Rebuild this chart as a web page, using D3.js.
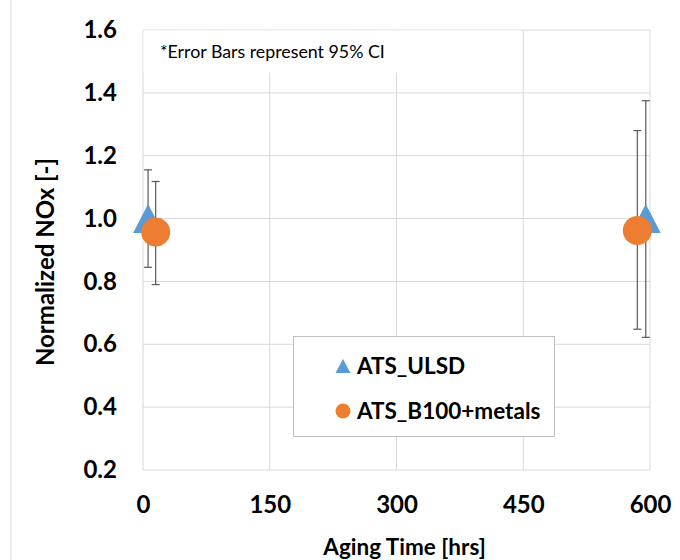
<!DOCTYPE html>
<html><head><meta charset="utf-8">
<script src="https://cdn.jsdelivr.net/npm/d3@7"></script>
<style>body{margin:0;background:#fff}</style>
</head><body>
<svg id="c" width="680" height="560"></svg>
<script>
const seriesNames = ["ATS_ULSD", "ATS_B100+metals"];
const ulsdX = [6, 595];
const ulsdY = [1.0, 1.0];
const ulsdHi = [1.155, 1.375];
const ulsdLo = [0.845, 0.622];
const b100X = [15, 585];
const b100Y = [0.957, 0.962];
const b100Hi = [1.118, 1.28];
const b100Lo = [0.79, 0.648];
const xTicks = [0, 150, 300, 450, 600];
const yTicks = [0.2, 0.4, 0.6, 0.8, 1.0, 1.2, 1.4, 1.6];
const note = "*Error Bars represent 95% CI";

const svg = d3.select("#c");
const x = d3.scaleLinear().domain([0, 600]).range([143, 650]);
const y = d3.scaleLinear().domain([0.2, 1.6]).range([470, 30]);
const grid = "#d9d9d9";
const font = "Lato, 'Open Sans', sans-serif";

// chart border (left)
svg.append("line").attr("x1", 11).attr("x2", 11).attr("y1", 0).attr("y2", 560).attr("stroke", grid);

// gridlines
svg.append("g").selectAll("line").data(yTicks).join("line")
  .attr("x1", x(0)).attr("x2", x(600)).attr("y1", d => y(d)).attr("y2", d => y(d))
  .attr("stroke", grid).attr("stroke-width", 1);
svg.append("g").selectAll("line").data(xTicks).join("line")
  .attr("x1", d => x(d)).attr("x2", d => x(d)).attr("y1", y(0.2)).attr("y2", y(1.6))
  .attr("stroke", grid).attr("stroke-width", 1);

// note box
svg.append("rect").attr("x", x(0) + 0.5).attr("y", y(1.6) + 0.5)
  .attr("width", x(450) - x(0) - 3).attr("height", 42).attr("fill", "#fff");
svg.append("text").attr("x", 160).attr("y", 58).text(note)
  .attr("font-family", font).attr("font-size", 17.8).attr("fill", "#000");

// axes labels
const yAxis = d3.axisLeft(y).tickValues(yTicks).tickFormat(d3.format(".1f")).tickSize(0).tickPadding(26);
const gy = svg.append("g").attr("transform", `translate(${x(0)},0)`).call(yAxis);
gy.select(".domain").remove();
gy.selectAll("text").attr("font-family", font).attr("font-weight", "bold").attr("font-size", 24).attr("fill", "#000");

const xAxis = d3.axisBottom(x).tickValues(xTicks).tickFormat(d3.format("d")).tickSize(0).tickPadding(26);
const gx = svg.append("g").attr("transform", `translate(0,${y(0.2)})`).call(xAxis);
gx.select(".domain").remove();
gx.selectAll("text").attr("font-family", font).attr("font-weight", "bold").attr("font-size", 24).attr("fill", "#000");

svg.append("text").attr("x", (x(0) + x(600)) / 2 + 8).attr("y", 555).attr("text-anchor", "middle")
  .attr("font-family", font).attr("font-weight", "bold").attr("font-size", 22.5).text("Aging Time [hrs]");
svg.append("text").attr("transform", `translate(54,262) rotate(-90)`).attr("text-anchor", "middle")
  .attr("font-family", font).attr("font-weight", "bold").attr("font-size", 24).text("Normalized NOx [-]");

function errBars(g, xs, hi, lo) {
  xs.forEach((v, i) => {
    const cx = x(v);
    g.append("line").attr("x1", cx).attr("x2", cx).attr("y1", y(hi[i])).attr("y2", y(lo[i]));
    g.append("line").attr("x1", cx - 4).attr("x2", cx + 4).attr("y1", y(hi[i])).attr("y2", y(hi[i]));
    g.append("line").attr("x1", cx - 4).attr("x2", cx + 4).attr("y1", y(lo[i])).attr("y2", y(lo[i]));
  });
  g.attr("stroke", "#595959").attr("stroke-width", 1.2);
}
function tri(cx, cy, h, w) {
  return `M${cx},${cy - h / 2}L${cx + w / 2},${cy + h / 2}L${cx - w / 2},${cy + h / 2}Z`;
}

// ULSD series
errBars(svg.append("g"), ulsdX, ulsdHi, ulsdLo);
svg.append("g").selectAll("path").data(ulsdX).join("path")
  .attr("d", (d, i) => tri(x(d), y(ulsdY[i]), 29, 30)).attr("fill", "#5B9BD5");

// B100 series
errBars(svg.append("g"), b100X, b100Hi, b100Lo);
svg.append("g").selectAll("circle").data(b100X).join("circle")
  .attr("cx", d => x(d)).attr("cy", (d, i) => y(b100Y[i])).attr("r", 14.5).attr("fill", "#ED7D31");

// legend
const lg = svg.append("g");
lg.append("rect").attr("x", 293.5).attr("y", 336.5).attr("width", 261).attr("height", 100)
  .attr("fill", "#fff").attr("stroke", "#bfbfbf");
lg.append("path").attr("d", tri(343, 366, 14, 15)).attr("fill", "#5B9BD5");
lg.append("circle").attr("cx", 343).attr("cy", 411).attr("r", 7.5).attr("fill", "#ED7D31");
lg.selectAll("text").data(seriesNames).join("text")
  .attr("x", 357).attr("y", (d, i) => 374 + i * 45).text(d => d)
  .attr("font-family", font).attr("font-weight", "bold").attr("font-size", 22.5).attr("fill", "#000");
</script>
</body></html>
